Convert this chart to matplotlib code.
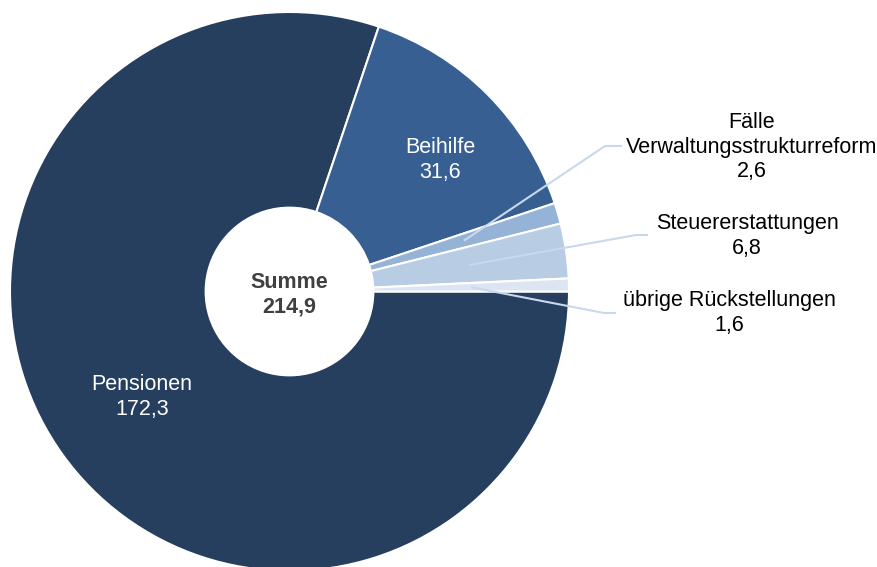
import numpy as np
import matplotlib
matplotlib.use('Agg')
import matplotlib.pyplot as plt

plt.rcParams['font.family'] = ['Liberation Sans', 'DejaVu Sans']

# data (Mrd. Euro)
labels = ['Pensionen', 'Beihilfe', 'Fälle\nVerwaltungsstrukturreform',
          'Steuererstattungen', 'übrige Rückstellungen']
values = [172.3, 31.6, 2.6, 6.8, 1.6]
total_label = 'Summe'
colors = ['#263f5f', '#375f91', '#95b3d7', '#b8cce4', '#dce6f2']

W, H = 878, 567
fig = plt.figure(figsize=(W / 100, H / 100), dpi=100)
ax = fig.add_axes([0, 0, 1, 1])

cx, cy = 289.5, H - 291.5  # centre in pixel units
R = 279.5
hole = 0.30
fs = 15.5
ls = 1.2

wedges, _ = ax.pie(values, colors=colors, startangle=0, counterclock=False,
                   radius=R, center=(cx, cy), frame=True,
                   wedgeprops=dict(width=R * (1 - hole), edgecolor='white', linewidth=1.5))
ax.set_xlim(0, W)
ax.set_ylim(0, H)
ax.set_aspect('equal')
ax.axis('off')

def fmt(v):
    return f'{v:.1f}'.replace('.', ',')

# centre text
ax.text(cx, cy - 3, f'{total_label}\n{fmt(sum(values))}', ha='center', va='center',
        fontsize=fs, fontweight='bold', color='#404040', linespacing=ls)

# inner labels
ax.text(142, H - 397, f'{labels[0]}\n{fmt(values[0])}', ha='center', va='center',
        fontsize=fs, color='white', linespacing=ls)
ax.text(440, H - 160, f'{labels[1]}\n{fmt(values[1])}', ha='center', va='center',
        fontsize=fs, color='white', linespacing=ls)

# outer labels with leader lines
outer = [
    # idx, text centre, elbow, end
    (2, (752, H - 147), (605, H - 146), (622, H - 146)),
    (3, (747, H - 236), (636, H - 235), (648, H - 235)),
    (4, (729, H - 313), (604, H - 313), (616, H - 313)),
]
line_col = '#c9d8ec'
for i, (tx, ty), elbow, end in outer:
    w = wedges[i]
    mid = np.deg2rad((w.theta1 + w.theta2) / 2)
    r0 = R * 0.65
    sx, sy = cx + r0 * np.cos(mid), cy + r0 * np.sin(mid)
    ax.plot([sx, elbow[0], end[0]], [sy, elbow[1], end[1]], color=line_col,
            lw=1.5, solid_capstyle='butt', zorder=5)
    ax.text(tx, ty, f'{labels[i]}\n{fmt(values[i])}', ha='center', va='center',
            fontsize=fs, color='black', linespacing=ls)

fig.savefig('out.png', dpi=100)
